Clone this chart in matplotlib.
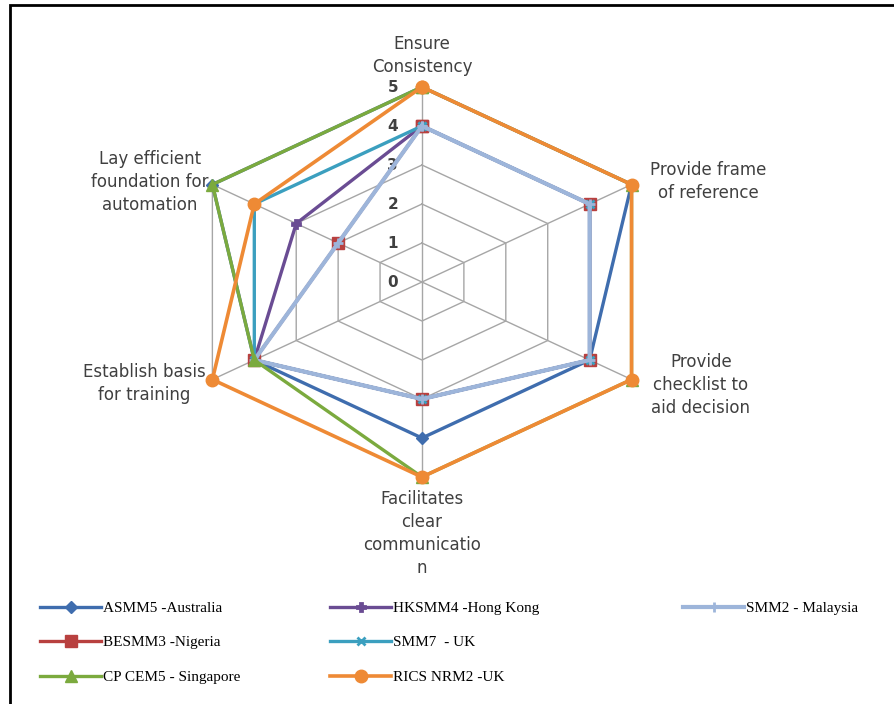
import numpy as np
import matplotlib.pyplot as plt
from matplotlib.patches import Rectangle

# Radar categories (clockwise from the top)
categories = [
    "Ensure\nConsistency",
    "Provide frame\nof reference",
    "Provide\nchecklist to\naid decision",
    "Facilitates\nclear\ncommunicatio\nn",
    "Establish basis\nfor training",
    "Lay efficient\nfoundation for\nautomation",
]

# Scores per standard method of measurement
asmm5 = [5, 5, 4, 4, 4, 5]
hksmm4 = [4, 4, 4, 3, 4, 3]
smm2 = [4, 4, 4, 3, 4, 2]
besmm3 = [4, 4, 4, 3, 4, 2]
smm7 = [4, 4, 4, 3, 4, 4]
cpcem5 = [5, 5, 5, 5, 4, 5]
nrm2 = [5, 5, 5, 5, 5, 4]

names = ["ASMM5 -Australia", "HKSMM4 -Hong Kong", "SMM2 - Malaysia",
         "BESMM3 -Nigeria", "SMM7  - UK", "CP CEM5 - Singapore", "RICS NRM2 -UK"]
values = [asmm5, hksmm4, smm2, besmm3, smm7, cpcem5, nrm2]
colors = ["#3F6DAE", "#6A4C93", "#9DB5DA", "#B8403F", "#3B9FBF", "#7BAA3E", "#EE8A35"]
markers = ["D", "P", "+", "s", "x", "^", "o"]
msizes = [6, 6, 7, 8, 6, 8, 9]
widths = [2.4, 2.4, 3.0, 2.4, 2.4, 2.4, 2.6]
# stacking order of the series (later ones drawn on top)
draw_order = [0, 1, 3, 4, 2, 5, 6]

rings = [0, 1, 2, 3, 4, 5]

fig = plt.figure(figsize=(8.94, 7.04), dpi=100)

# polar axes stretched horizontally (aspect not forced equal)
ax = fig.add_axes([0.2013, 0.3224, 0.5414, 0.554], projection="polar")
ax.set_aspect("auto")
ax.set_theta_zero_location("N")
ax.set_theta_direction(-1)
ax.set_ylim(0, 5)
ax.grid(False)
ax.set_xticks([])
ax.set_yticks([])
ax.spines["polar"].set_visible(False)
ax.patch.set_visible(False)

theta = np.deg2rad(np.arange(len(categories)) * 60)
theta_closed = np.append(theta, theta[0])

# hexagonal grid and spokes
for r in rings[1:]:
    ax.plot(theta_closed, [r] * len(theta_closed), color="#A6A6A6", lw=1.0, zorder=1, clip_on=False)
for t in theta:
    ax.plot([t, t], [0, rings[-1]], color="#A6A6A6", lw=1.0, zorder=1, clip_on=False)

for r in rings:
    ax.annotate(str(r), xy=(0, r), xytext=(-21, 0), textcoords="offset points",
                ha="center", va="center", fontsize=11, fontweight="bold", color="#404040")

# data series
handles = [None] * len(names)
for z, i in enumerate(draw_order):
    c, m = colors[i], markers[i]
    v = np.append(values[i], values[i][0])
    (h,) = ax.plot(theta_closed, v, color=c, lw=widths[i], marker=m, ms=msizes[i],
                   mew=2 if m in "+xP" else 1, mec=c, mfc=c, label=names[i],
                   zorder=3 + z, clip_on=False)
    handles[i] = h

# category labels around the chart
label_offsets = [(0, 8), (55, 2), (50, -4), (0, -9), (-49, -3), (-45, 2)]
label_va = ["bottom", "center", "center", "top", "center", "center"]
for t, lab, off, va in zip(theta, categories, label_offsets, label_va):
    ax.annotate(lab, xy=(t, 5), xytext=off, textcoords="offset points", ha="center", va=va,
                multialignment="center", fontsize=12, color="#404040", linespacing=1.36,
                annotation_clip=False)

# legend laid out in three columns, filled row by row
legend_cols = [[0, 3, 5], [1, 4, 6], [2]]
legend_x = [40 / 894, 330 / 894, 683 / 894]
for col, x in zip(legend_cols, legend_x):
    fig.legend([handles[i] for i in col], [names[i] for i in col], loc="upper left",
               bbox_to_anchor=(x, 0.146), frameon=False, borderpad=0, borderaxespad=0,
               handlelength=4.0, handletextpad=0.1, labelspacing=1.36,
               prop={"family": "Liberation Serif", "size": 11})

# outer border
fig.add_artist(Rectangle((10 / 894, -0.05), 1.2, 1.05 - 5 / 704, transform=fig.transFigure,
                         fill=False, edgecolor="black", lw=2))

fig.savefig("out.png", dpi=100)
